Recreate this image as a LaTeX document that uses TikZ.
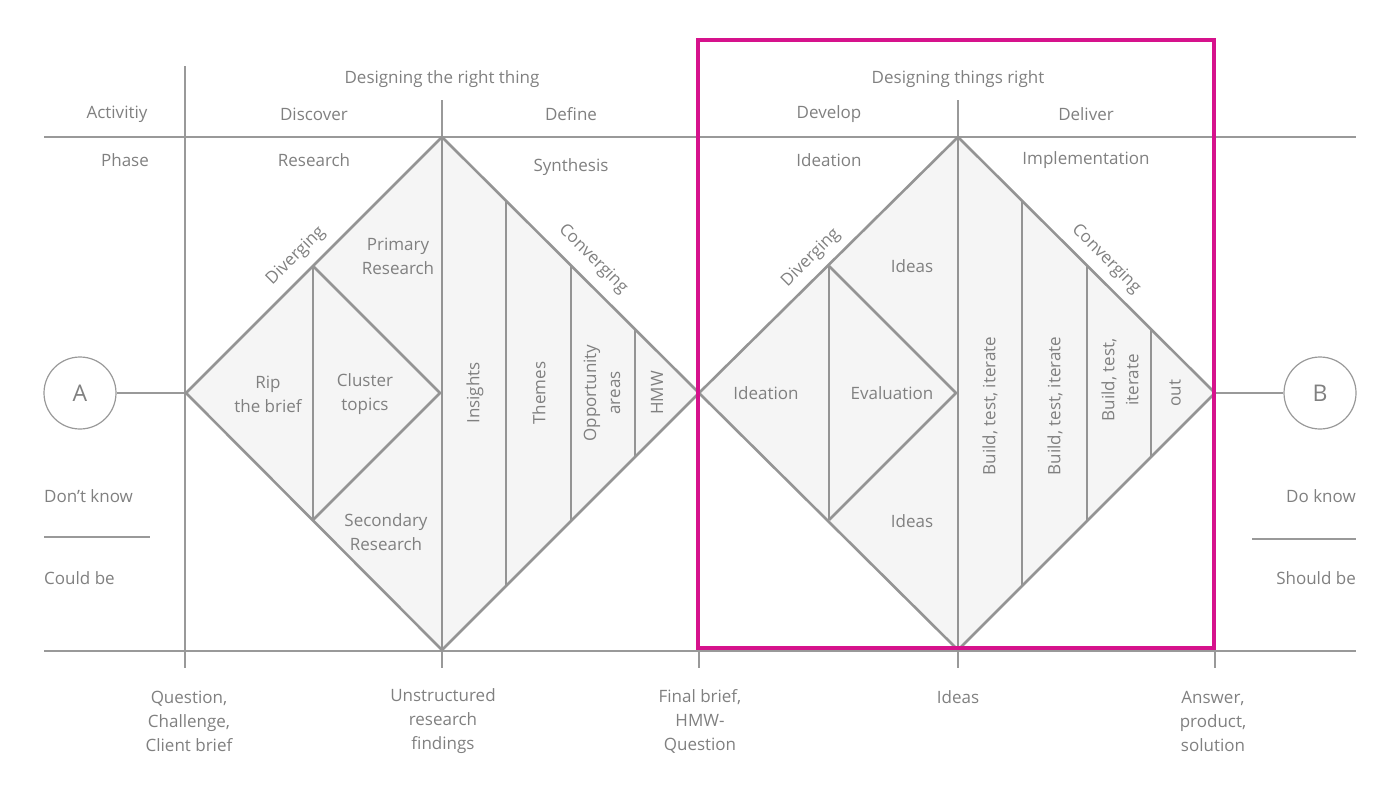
\documentclass[tikz,border=0pt]{standalone}
\usepackage{fontspec}
\setmainfont{Open Sans}
\begin{document}
\begin{tikzpicture}[x=1pt,y=-1pt,
  ln/.style={draw=black!40,line width=1.2pt},
  dm/.style={draw=black!42,line width=2.6pt,fill=black!4,line join=miter},
  il/.style={draw=black!42,line width=2.6pt},
  tx/.style={text=black!50,font=\fontsize{17}{24}\selectfont,align=center,inner sep=0pt},
  mg/.style={draw={rgb,255:red,214;green,18;blue,140},line width=3.5pt}]
\useasboundingbox (0,0) rectangle (1400,787);
% grid
\draw[ln] (44,137) -- (1356,137);
\draw[ln] (44,651) -- (1356,651);
\draw[ln] (185,66) -- (185,668);
\draw[ln] (442,100) -- (442,137);
\draw[ln] (958,100) -- (958,137);
\foreach \x in {442,699,958,1215} \draw[ln] (\x,651) -- (\x,668);
\draw[ln] (44,537) -- (150,537);
\draw[ln] (1252,539) -- (1356,539);
% circles
\node[ln,circle,minimum size=72pt,tx,font=\fontsize{23}{26}\selectfont] (A) at (80,393) {A};
\node[ln,circle,minimum size=72pt,tx,font=\fontsize{23}{26}\selectfont] (B) at (1320,393) {B};
\coordinate (L1) at (186,393); \coordinate (T1) at (442,137); \coordinate (R1) at (699,393); \coordinate (D1) at (442,650);
\coordinate (T2) at (958,137); \coordinate (R2) at (1215,393); \coordinate (D2) at (958,650);
\draw[ln] (A) -- (L1);
\draw[ln] (R2) -- (B);
% diamonds
\draw[dm] (L1) -- (T1) -- (R1) -- (D1) -- cycle;
\draw[dm] (R1) -- (T2) -- (R2) -- (D2) -- cycle;
\draw[il] (313,266) -- (313,520);
\draw[il] (313,266) -- (440,393) -- (313,520);
\draw[il] (T1) -- (D1);
\foreach \x in {506,571,635} {\pgfmathsetmacro\d{\x-442}\draw[il] (\x,137+\d) -- (\x,650-\d);}
\draw[il] (829,266) -- (829,520);
\draw[il] (829,266) -- (956,393) -- (829,520);
\draw[il] (T2) -- (D2);
\foreach \x in {1022,1087,1151} {\pgfmathsetmacro\d{\x-958}\draw[il] (\x,137+\d) -- (\x,650-\d);}
% magenta
\draw[mg] (698,40) rectangle (1214,648);
% header texts
\node[tx] (t1) at (442,79) {Designing the right thing};
\node[tx] (t2) at (958,79) {Designing things right};
\node[tx] (t3) at (117,114) {Activitiy};
\node[tx] (t4) at (314,114) {Discover};
\node[tx] (t5) at (571,114) {Define};
\node[tx] (t6) at (829,114) {Develop};
\node[tx] (t7) at (1086,114) {Deliver};
\node[tx] (t8) at (125,160) {Phase};
\node[tx] (t9) at (314,160) {Research};
\node[tx] (t10) at (571,167) {Synthesis};
\node[tx] (t11) at (829,160) {Ideation};
\node[tx] (t12) at (1086,160) {Implementation};
% diamond 1 texts
\node[tx,rotate=45] (d1) at (296,256) {Diverging};
\node[tx,rotate=-45] (c1) at (593,259) {Converging};
\node[tx] (pr) at (398,256) {Primary\\Research};
\node[tx] (rb) at (268,394) {Rip\\the brief};
\node[tx] (ct) at (365,394) {Cluster\\topics};
\node[tx] (sr) at (386,532) {Secondary\\Research};
\node[tx,rotate=90] (ins) at (475,393) {Insights};
\node[tx,rotate=90] (th) at (539,393) {Themes};
\node[tx,rotate=90] (op) at (602,393) {Opportunity\\areas};
\node[tx,rotate=90] (hmw) at (657,393) {HMW};
% diamond 2 texts
\node[tx,rotate=45] (d2) at (811,258) {Diverging};
\node[tx,rotate=-45] (c2) at (1106,259) {Converging};
\node[tx] (i1) at (912,266) {Ideas};
\node[tx] (id) at (766,393) {Ideation};
\node[tx] (ev) at (892,393) {Evaluation};
\node[tx] (i2) at (912,521) {Ideas};
\node[tx,rotate=90] (b1) at (990,406) {Build, test, iterate};
\node[tx,rotate=90] (b2) at (1055,406) {Build, test, iterate};
\node[tx,rotate=90] (b3) at (1120,380) {Build, test,\\iterate};
\node[tx,rotate=90] (out) at (1175,393) {out};
% side texts
\node[tx,anchor=west] (dk) at (44,496) {Don't know};
\node[tx,anchor=west] (cb) at (44,578) {Could be};
\node[tx,anchor=east] (dok) at (1356,496) {Do know};
\node[tx,anchor=east] (sb) at (1356,578) {Should be};
% bottom texts
\node[tx] (q) at (189,721) {Question,\\Challenge,\\Client brief};
\node[tx] (u) at (443,721) {Unstructured\\research\\findings};
\node[tx] (f) at (700,721) {Final brief,\\HMW-\\Question};
\node[tx] (ia) at (958,697) {Ideas};
\node[tx] (ans) at (1213,721) {Answer,\\product,\\solution};
\end{tikzpicture}
\end{document}
